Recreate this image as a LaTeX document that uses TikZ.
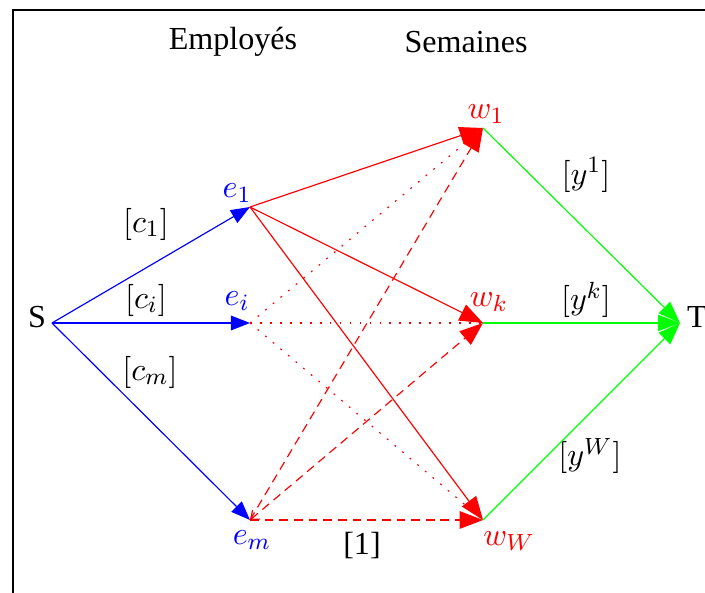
\documentclass[11pt,tikz,border=0pt]{standalone}
\usepackage{fontspec}
\setmainfont{Liberation Serif}
\usetikzlibrary{arrows.meta,positioning}
\definecolor{vert}{rgb}{0,1,0}

\begin{document}
\begin{tikzpicture}[x=0.012cm,y=-0.012cm,
lab/.style={inner sep=0pt},
fb/.style={blue,-{Triangle[length=6.5pt,width=5pt]}},
fr/.style={red,-{Triangle[length=8pt,width=6pt]}},
fv/.style={vert,-{Triangle[length=7.5pt,width=5.5pt]}},
pointille/.style={red,dash pattern=on 0.6pt off 2.8pt},
tirets/.style={red,dash pattern=on 3pt off 2pt}]
\useasboundingbox (0,0) rectangle (705,593);
\draw[line width=1pt] (13,593)--(13,10)--(705,10);
\coordinate (S) at (52,323);
\coordinate (e1) at (250,207);
\coordinate (ei) at (250,323);
\coordinate (em) at (250,520);
\coordinate (w1) at (483,128);
\coordinate (wk) at (483,323);
\coordinate (wW) at (483,520);
\coordinate (T) at (680,323);
\node[lab] (emp) at (233,42) {Employés};
\node[lab] (sem) at (466,42) {Semaines};
\node[lab] (lS) at (37,317) {S};
\node[lab] (lT) at (697,317) {T};
\node[lab,text=blue] (le1) at (237,193) {$e_1$};
\node[lab,text=blue] (lei) at (237,301) {$e_i$};
\node[lab,text=blue] (lem) at (252,540) {$e_m$};
\node[lab,text=red] (lw1) at (486,114) {$w_1$};
\node[lab,text=red] (lwk) at (489,302) {$w_k$};
\node[lab,text=red] (lwW) at (509,541) {$w_W$};
\node[lab] (c1) at (146,224) {$[c_1]$};
\node[lab] (ci) at (146,300) {$[c_i]$};
\node[lab] (cm) at (150,372) {$[c_m]$};
\node[lab] (y1) at (586,175) {$[y^1]$};
\node[lab] (yk) at (586,300) {$[y^k]$};
\node[lab] (yW) at (590,456) {$[y^W]$};
\node[lab] (un) at (362,546) {[1]};
\draw[fb] (S)--(e1);
\draw[fb] (S)--(ei);
\draw[fb] (S)--(em);
\draw[pointille] (ei)--(w1);
\draw[pointille] (ei)--(wk);
\draw[pointille] (ei)--(wW);
\draw[tirets,-{Triangle[length=8pt,width=6pt]}] (em)--(w1);
\draw[tirets,{Straight Barb[length=2.5pt,width=4pt]}-{Triangle[length=8pt,width=6pt]}] (em)--(wk);
\draw[tirets,-{Triangle[length=8pt,width=6pt]}] (em)--(wW);
\draw[fr] (e1)--(w1);
\draw[fr] (e1)--(wk);
\draw[fr] (e1)--(wW);
\draw[fv] (w1)--(T);
\draw[fv] (wk)--(T);
\draw[fv] (wW)--(T);
\end{tikzpicture}
\end{document}
